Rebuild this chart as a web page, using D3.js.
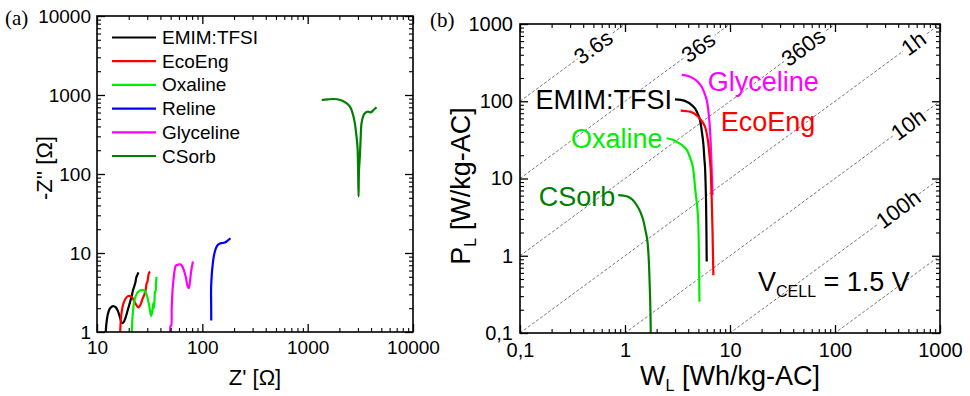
<!DOCTYPE html>
<html>
<head>
<meta charset="utf-8">
<script src="https://cdn.jsdelivr.net/npm/d3@7"></script>
<style>
  body { margin: 0; background: #fff; }
  svg { display: block; font-family: "Liberation Sans", Arial, sans-serif; }
</style>
</head>
<body>
<svg id="chart" width="970" height="396"></svg>
<script>
// ---- panel (a): Nyquist plot, [Z', -Z''] in ohm ----
const nyquistNames = ["EMIM:TFSI", "EcoEng", "Oxaline", "Reline", "Glyceline", "CSorb"];
const emimNyq = [[12.1,1.0],[12.3,1.3],[12.7,1.7],[13.3,2.0],[14.2,2.13],[15.1,2.05],[15.9,1.8],[16.6,1.5],[17.2,1.3],[17.8,1.32],[18.6,1.5],[19.6,1.9],[20.6,2.4],[21.4,2.9],[22.0,3.4],[22.6,3.8],[23.2,4.3],[23.6,4.9],[24.2,5.3],[24.7,5.7]];
const ecoNyq = [[16.6,1.0],[16.9,1.5],[17.5,2.1],[18.5,2.6],[19.8,2.85],[21.2,2.8],[22.4,2.5],[23.6,2.2],[24.7,2.05],[25.8,2.2],[27.0,2.6],[28.2,3.0],[29.0,3.4],[29.4,4.0],[30.2,4.4],[30.6,5.0],[31.2,5.6],[31.9,5.8]];
const oxaNyq = [[21.4,1.0],[21.7,1.5],[22.3,2.2],[23.2,2.8],[24.5,3.2],[26.3,3.4],[28.0,3.35],[29.5,3.0],[30.8,2.4],[31.8,1.9],[32.6,1.6],[33.3,1.75],[34.2,2.3],[34.6,2.0],[35.2,2.6],[35.5,3.2],[36.0,3.3],[36.3,4.2],[36.8,5.0]];
const relNyq = [[121.5,1.4],[121.3,2.2],[121.0,3.0],[121.2,3.7],[122,4.5],[123.5,5.8],[125.5,7.2],[128,8.8],[131,10.2],[135,11.6],[140,12.6],[147,13.2],[155,13.4],[163,13.6],[170,14.0],[177,14.6],[185,15.4]];
const glyNyq = [[49.6,1.0],[50.0,1.2],[50.6,1.2],[51.2,2.0],[52.0,3.2],[53.2,4.6],[54.5,6.0],[56,6.9],[58.5,7.1],[61.5,7.2],[64,6.9],[67,6.0],[70,4.8],[72.5,3.8],[74.5,3.6],[76.5,4.5],[78.5,6.0],[80.5,7.2],[81.5,7.8]];
const csoNyq = [[1360,864],[1550,880],[1780,890],[2000,870],[2220,823],[2420,760],[2570,679],[2700,560],[2805,438],[2900,310],[2972,222],[3010,120],[3041,52],[3070,110],[3128,166],[3190,300],[3245,438],[3350,530],[3490,587],[3620,608],[3752,615],[3880,608],[3981,603],[4226,646],[4510,699]];
const nyquistData = [emimNyq, ecoNyq, oxaNyq, relNyq, glyNyq, csoNyq];
const zRealTicks = [10, 100, 1000, 10000];
const zImagTicks = [1, 10, 100, 1000, 10000];

// ---- panel (b): Ragone plot, [W_L Wh/kg, P_L W/kg] ----
const ragoneNames = ["Glyceline", "EMIM:TFSI", "EcoEng", "Oxaline", "CSorb"];
const glyRag = [[3.47,219],[4.0,212],[4.47,198],[4.95,178],[5.37,154],[5.7,128],[6.0,104],[6.2,78],[6.35,57],[6.47,40],[6.55,28.5],[6.68,14],[6.81,6.1]];
const emimRag = [[2.99,106],[3.4,104],[3.87,98.6],[4.3,90],[4.64,81],[4.95,68],[5.18,57],[5.4,40],[5.57,28.6],[5.7,18],[5.78,14.2],[5.85,9],[5.91,5.27],[5.96,2.2],[6.0,0.84]];
const ecoRag = [[3.39,75.5],[3.8,74.5],[4.16,73.3],[4.6,69],[4.99,63],[5.4,55],[5.78,46.9],[6.05,36],[6.21,28.6],[6.4,19],[6.55,12.9],[6.63,8],[6.70,5.27],[6.82,2],[6.94,0.56]];
const oxaRag = [[2.49,33.2],[2.8,32],[3.10,29.9],[3.5,27],[3.87,23.4],[4.15,19],[4.42,14.2],[4.55,10.5],[4.64,7.8],[4.9,4.0],[4.99,2.63],[5.06,1.0],[5.12,0.254]];
const csoRag = [[0.863,6.1],[0.96,6.0],[1.07,5.8],[1.18,5.3],[1.29,4.54],[1.4,3.7],[1.49,2.90],[1.57,2.1],[1.63,1.60],[1.68,0.95],[1.70,0.655],[1.74,0.242],[1.76,0.1]];
const ragoneData = [glyRag, emimRag, ecoRag, oxaRag, csoRag];
const wTicks = [0.1, 1, 10, 100, 1000];
const pTicks = [0.1, 1, 10, 100, 1000];
const tickText = ["0,1", "1", "10", "100", "1000"];
// constant discharge time lines (hours)
const dischargeHours = [0.001, 0.01, 0.1, 1, 10, 100, 1000];
const dischargeLabels = ["3.6s", "36s", "360s", "1h", "10h", "100h", ""];

// colours
const nyquistColors = ["#000000", "#ff0000", "#00ee00", "#0000ff", "#ff00ff", "#007f00"];
const ragoneColors = ["#ff00ff", "#000000", "#ff0000", "#00ee00", "#007f00"];

const svg = d3.select("#chart");

// scales
const xa = d3.scaleLog().domain([10, 10000]).range([97, 413]);
const ya = d3.scaleLog().domain([1, 10000]).range([332, 16]);
const xb = d3.scaleLog().domain([0.1, 1000]).range([520, 940]);
const yb = d3.scaleLog().domain([0.1, 1000]).range([333, 24]);

function minorTicks(domain) {
  const out = [];
  const e0 = Math.round(Math.log10(domain[0])), e1 = Math.round(Math.log10(domain[1]));
  for (let e = e0; e < e1; e++)
    for (let k = 2; k <= 9; k++) out.push(k * Math.pow(10, e));
  return out;
}

// draw box with inward ticks on all four sides
function drawFrame(x, y, xMajor, yMajor, xFmt, yFmt, fs, padX, padY) {
  const [x0, x1] = x.range();
  const [y0, y1] = y.range();
  const sides = [
    [d3.axisBottom, x, `translate(0,${y0})`, xMajor, xFmt, padX],
    [d3.axisTop, x, `translate(0,${y1})`, xMajor, null, 0],
    [d3.axisLeft, y, `translate(${x0},0)`, yMajor, yFmt, padY],
    [d3.axisRight, y, `translate(${x1},0)`, yMajor, null, 0]
  ];
  sides.forEach(([ax, sc, tr, major, fmt, pad]) => {
    svg.append("g").attr("transform", tr)
      .call(ax(sc).tickValues(minorTicks(sc.domain())).tickSize(-4).tickFormat(""))
      .call(g => g.select(".domain").remove())
      .selectAll("line").attr("stroke-width", 1.1);
    const g = svg.append("g").attr("transform", tr)
      .call(ax(sc).tickValues(major).tickSize(-8).tickPadding(pad)
        .tickFormat(fmt ? fmt : ""))
      .call(g => g.select(".domain").remove());
    g.selectAll("line").attr("stroke-width", 1.3);
    g.selectAll("text").attr("font-size", fs).attr("font-family", "Liberation Sans, Arial, sans-serif").attr("fill", "#000");
  });
  svg.append("rect")
    .attr("x", x0).attr("y", y1)
    .attr("width", x1 - x0).attr("height", y0 - y1)
    .attr("fill", "none").attr("stroke", "#000").attr("stroke-width", 1.6);
}

function addClip(id, x, y) {
  svg.append("clipPath").attr("id", id).append("rect")
    .attr("x", x.range()[0]).attr("y", y.range()[1])
    .attr("width", x.range()[1] - x.range()[0])
    .attr("height", y.range()[0] - y.range()[1]);
}

// ================= panel (a) =================
addClip("clipA", xa, ya);
const lineA = d3.line().x(d => xa(d[0])).y(d => ya(d[1])).curve(d3.curveCatmullRom.alpha(0.5));
svg.append("g").attr("clip-path", "url(#clipA)")
  .selectAll("path").data(nyquistData).enter().append("path")
  .attr("d", d => lineA(d))
  .attr("fill", "none")
  .attr("stroke", (d, i) => nyquistColors[i])
  .attr("stroke-width", 2.2)
  .attr("stroke-linejoin", "round");

drawFrame(xa, ya, zRealTicks, zImagTicks, d => d3.format("d")(d), d => d3.format("d")(d), 19, 9, 6);

// legend
const legA = svg.append("g");
nyquistNames.forEach((name, i) => {
  const yy = 37.5 + i * 23.7;
  legA.append("line").attr("x1", 112).attr("x2", 156).attr("y1", yy).attr("y2", yy)
    .attr("stroke", nyquistColors[i]).attr("stroke-width", 2.2);
  legA.append("text").attr("x", 162).attr("y", yy).attr("dominant-baseline", "central")
    .attr("font-size", 19).text(name);
});

// axis titles
svg.append("text").attr("x", (97 + 413) / 2).attr("y", 377).attr("text-anchor", "middle")
  .attr("dominant-baseline", "central").attr("font-size", 22).text("Z' [\u03A9]");
svg.append("text").attr("transform", "translate(44,168) rotate(-90)").attr("text-anchor", "middle")
  .attr("dominant-baseline", "central").attr("font-size", 22).text("-Z'' [\u03A9]");
svg.append("text").attr("x", 5).attr("y", 18).attr("dominant-baseline", "central")
  .attr("font-family", "Liberation Serif, serif").attr("font-size", 21).text("(a)");

// ================= panel (b) =================
addClip("clipB", xb, yb);
const slope = Math.atan2(yb(10) - yb(1), xb(10) - xb(1)) * 180 / Math.PI;
const diag = svg.append("g").attr("clip-path", "url(#clipB)");
dischargeHours.forEach(t => {
  diag.append("line")
    .attr("x1", xb(0.1)).attr("y1", yb(0.1 / t))
    .attr("x2", xb(1000)).attr("y2", yb(1000 / t))
    .attr("stroke", "#666").attr("stroke-width", 0.9).attr("stroke-dasharray", "3,2");
});
// energy position of each time label along its line
const labelEnergy = [0.5, 5, 50, 560, 500, 400];
dischargeLabels.forEach((lab, i) => {
  if (!lab) return;
  const w = labelEnergy[i], p = w / dischargeHours[i];
  diag.append("text")
    .attr("transform", `translate(${xb(w)},${yb(p)}) rotate(${slope})`)
    .attr("text-anchor", "middle").attr("dominant-baseline", "central")
    .attr("font-size", 22)
    .attr("stroke", "#fff").attr("stroke-width", 6).attr("paint-order", "stroke")
    .attr("fill", "#000").text(lab);
});

const lineB = d3.line().x(d => xb(d[0])).y(d => yb(d[1])).curve(d3.curveCatmullRom.alpha(0.5));
svg.append("g").attr("clip-path", "url(#clipB)")
  .selectAll("path").data(ragoneData).enter().append("path")
  .attr("d", d => lineB(d))
  .attr("fill", "none")
  .attr("stroke", (d, i) => ragoneColors[i])
  .attr("stroke-width", 2.2);

// series labels next to the start of each curve
const labelPlace = [
  { anchor: "start", dx: 26, dy: 7 },
  { anchor: "end", dx: -3, dy: 1 },
  { anchor: "start", dx: 40, dy: 11 },
  { anchor: "end", dx: -4, dy: 1 },
  { anchor: "end", dx: -3, dy: 2 }
];
ragoneNames.forEach((name, i) => {
  const p0 = ragoneData[i][0];
  svg.append("text")
    .attr("x", xb(p0[0]) + labelPlace[i].dx).attr("y", yb(p0[1]) + labelPlace[i].dy)
    .attr("text-anchor", labelPlace[i].anchor).attr("dominant-baseline", "central")
    .attr("font-size", 27).attr("fill", ragoneColors[i]).text(name);
});

drawFrame(xb, yb, wTicks, pTicks, d => tickText[wTicks.indexOf(d)], d => tickText[pTicks.indexOf(d)], 20, 10, 7);

// V_CELL note
const vt = svg.append("text").attr("x", 758).attr("y", 291).attr("font-size", 27);
vt.append("tspan").text("V");
vt.append("tspan").attr("font-size", 16).attr("dy", 6).text("CELL");
vt.append("tspan").attr("dy", -6).text(" = " + "1.5 V");

// axis titles
const tx = svg.append("text").attr("x", (520 + 940) / 2).attr("y", 385).attr("text-anchor", "middle").attr("font-size", 27);
tx.append("tspan").text("W");
tx.append("tspan").attr("font-size", 16).attr("dy", 6).text("L");
tx.append("tspan").attr("dy", -6).text(" [Wh/kg-AC]");
const ty = svg.append("text").attr("transform", "translate(470,186) rotate(-90)").attr("text-anchor", "middle").attr("font-size", 27);
ty.append("tspan").text("P");
ty.append("tspan").attr("font-size", 16).attr("dy", 6).text("L");
ty.append("tspan").attr("dy", -6).text(" [W/kg-AC]");
svg.append("text").attr("x", 430).attr("y", 20).attr("dominant-baseline", "central")
  .attr("font-family", "Liberation Serif, serif").attr("font-size", 21).text("(b)");
</script>
</body>
</html>
